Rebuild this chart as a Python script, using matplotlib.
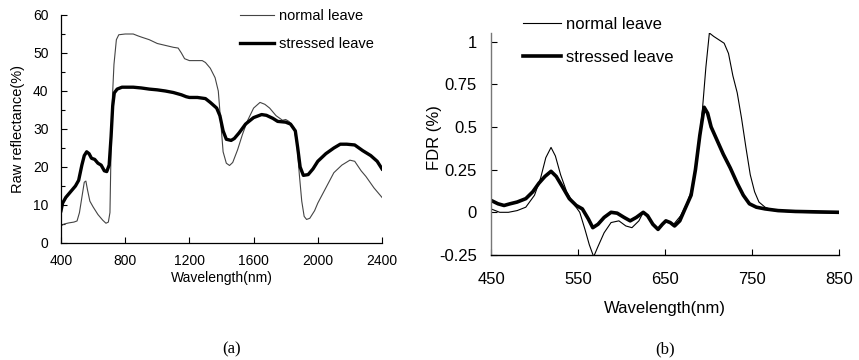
import matplotlib
matplotlib.use("Agg")
import matplotlib.pyplot as plt
from matplotlib.ticker import MultipleLocator

# ---------------- data: panel (a) raw reflectance ----------------
wl_a_normal = [400, 420, 450, 480, 500, 515, 530, 545, 555, 565, 580, 600, 630, 660, 680, 695, 705, 712, 720,
               730, 745, 760, 800, 850, 880, 900, 950, 1000, 1050, 1100, 1130, 1150, 1170, 1200, 1250, 1280,
               1300, 1330, 1360, 1380, 1395, 1410, 1430, 1450, 1470, 1500, 1530, 1560, 1600, 1640, 1670, 1700,
               1740, 1780, 1800, 1820, 1850, 1870, 1885, 1900, 1915, 1930, 1950, 1980, 2000, 2050, 2100, 2150,
               2200, 2230, 2270, 2300, 2350, 2400]
refl_normal = [4.5, 5.0, 5.3, 5.5, 5.8, 8, 12, 16, 16.3, 14, 11, 9.5, 7.5, 6, 5.2, 5.5, 8, 25, 38,
               47, 53.5, 54.8, 55, 55, 54.5, 54.2, 53.5, 52.5, 52, 51.5, 51.3, 50, 48.5, 48, 48, 48,
               47.5, 46, 43.5, 40, 32, 24, 21, 20.4, 21.2, 24.5, 28.5, 32, 35.5, 37, 36.5, 35.5,
               33.5, 32.3, 32.5, 32, 30.5, 26, 18, 11, 7, 6.2, 6.5, 8.5, 10.5, 14.5, 18.5, 20.5,
               21.8, 21.5, 19, 17.5, 14.5, 12]

wl_a_stressed = [400, 410, 430, 460, 490, 510, 530, 545, 560, 575, 590, 610, 630, 650, 670, 685, 700, 712,
                 722, 732, 750, 780, 850, 900, 950, 1000, 1050, 1100, 1150, 1180, 1200, 1250, 1300, 1330,
                 1370, 1390, 1410, 1430, 1460, 1480, 1510, 1550, 1600, 1650, 1680, 1720, 1750, 1800, 1830,
                 1860, 1875, 1890, 1910, 1940, 1970, 2000, 2050, 2100, 2140, 2180, 2230, 2280, 2330, 2370, 2400]
refl_stressed = [8.5, 10.5, 12, 13.5, 15, 16.5, 20.5, 23, 24, 23.5, 22.3, 22, 21, 20.5, 19, 18.8, 20.5, 28,
                 36, 39.5, 40.5, 41, 41, 40.8, 40.5, 40.3, 40, 39.6, 39, 38.5, 38.3, 38.3, 38, 37,
                 35.5, 33.5, 29.5, 27.3, 27, 27.5, 29, 31.3, 33, 33.8, 33.6, 32.8, 32, 31.8, 31.3,
                 29.5, 25, 20, 17.8, 18, 19.5, 21.5, 23.5, 25, 26, 26, 25.8, 24.3, 23, 21.5, 19.5]

# ---------------- data: panel (b) first derivative ----------------
wl_b_normal = [450, 460, 470, 480, 490, 500, 507, 513, 519, 524, 530, 537, 545, 552, 558, 563, 568, 573, 580,
               588, 597, 605, 612, 620, 625, 632, 642, 651, 660, 668, 675, 682, 688, 693, 697, 701, 706, 712,
               718, 723, 728, 733, 738, 743, 748, 753, 758, 765, 775, 800, 850]
fdr_normal = [0.02, 0.0, 0.0, 0.01, 0.03, 0.1, 0.2, 0.32, 0.38, 0.33, 0.22, 0.12, 0.05, 0.0, -0.1, -0.19, -0.26,
              -0.2, -0.12, -0.06, -0.05, -0.08, -0.09, -0.05, 0.0, -0.04, -0.1, -0.05, -0.07, -0.02, 0.05, 0.15,
              0.35, 0.6, 0.85, 1.05, 1.03, 1.01, 0.99, 0.93, 0.8, 0.7, 0.55, 0.38, 0.22, 0.12, 0.06, 0.03, 0.01,
              0.0, -0.005]

wl_b_stressed = [450, 458, 465, 472, 480, 490, 498, 505, 512, 519, 525, 532, 540, 548, 555, 562, 567, 573, 580,
                 588, 595, 603, 610, 617, 625, 630, 636, 642, 647, 651, 656, 661, 667, 673, 680, 685, 690, 695,
                 699, 703, 710, 717, 725, 733, 740, 747, 755, 765, 780, 800, 850]
fdr_stressed = [0.07, 0.05, 0.04, 0.05, 0.06, 0.08, 0.12, 0.17, 0.21, 0.24, 0.21, 0.15, 0.08, 0.04, 0.02, -0.04,
                -0.09, -0.07, -0.03, 0.0, -0.005, -0.03, -0.05, -0.03, 0.0, -0.02, -0.07, -0.1, -0.07, -0.05,
                -0.06, -0.08, -0.05, 0.02, 0.1, 0.25, 0.45, 0.615, 0.58, 0.5, 0.42, 0.34, 0.26, 0.17, 0.1, 0.05,
                0.03, 0.02, 0.01, 0.005, 0.0]

labels = ["normal leave", "stressed leave"]
a_xticks = [400, 800, 1200, 1600, 2000, 2400]
a_yticks = [0, 10, 20, 30, 40, 50, 60]
b_xticks = [450, 550, 650, 750, 850]
b_yticks = [-0.25, 0, 0.25, 0.5, 0.75, 1]
b_yticklabels = ["-0.25", "0", "0.25", "0.5", "0.75", "1"]

plt.rcParams['font.family'] = ['Liberation Sans', 'DejaVu Sans']

fig = plt.figure(figsize=(8.59, 3.6), dpi=100)
W, H = 859, 360

def box(x0, x1, ytop, ybot):
    return [x0 / W, 1 - ybot / H, (x1 - x0) / W, (ybot - ytop) / H]

# ---------- panel (a) ----------
ax1 = fig.add_axes(box(61, 382, 15, 243))
ax1.plot(wl_a_normal, refl_normal, color='#444444', lw=0.8, label=labels[0])
ax1.plot(wl_a_stressed, refl_stressed, color='black', lw=2.4, label=labels[1])
ax1.set_xlim(400, 2400)
ax1.set_ylim(0, 60)
ax1.set_xticks(a_xticks)
ax1.set_yticks(a_yticks)
ax1.yaxis.set_minor_locator(MultipleLocator(5))
for s in ['top', 'right']:
    ax1.spines[s].set_visible(False)
for s in ['left', 'bottom']:
    ax1.spines[s].set_linewidth(0.9)
ax1.tick_params(which='both', direction='in', width=0.8, labelsize=10)
ax1.tick_params(which='major', length=4)
ax1.tick_params(which='minor', length=3)
ax1.tick_params(axis='x', pad=8)
ax1.tick_params(axis='y', pad=9)
ax1.set_xlabel("Wavelength(nm)", fontsize=10, labelpad=2)
ax1.set_ylabel("Raw reflectance(%)", fontsize=10.5, labelpad=6)
ax1.legend(loc='upper left', bbox_to_anchor=((240 - 61) / 321, 1.027), frameon=False, fontsize=10.5,
           handlelength=2.3, handletextpad=0.4, labelspacing=1.0, borderpad=0, borderaxespad=0)

# ---------- panel (b) ----------
ax2 = fig.add_axes(box(491, 839, 33, 255))
ax2.plot(wl_b_normal, fdr_normal, color='black', lw=0.8, label=labels[0])
ax2.plot(wl_b_stressed, fdr_stressed, color='black', lw=2.6, label=labels[1])
ax2.set_xlim(450, 850)
ax2.set_ylim(-0.25, 1.05)
ax2.set_xticks(b_xticks)
ax2.set_yticks(b_yticks)
ax2.set_yticklabels(b_yticklabels)
for s in ['top', 'right']:
    ax2.spines[s].set_visible(False)
ax2.spines['left'].set_color('#777777')
ax2.spines['left'].set_linewidth(1.0)
ax2.spines['bottom'].set_linewidth(1.0)
ax2.tick_params(which='both', direction='in', length=4, width=0.8, labelsize=12)
ax2.tick_params(axis='x', pad=12)
ax2.tick_params(axis='y', pad=10)
ax2.set_xlabel("Wavelength(nm)", fontsize=12, labelpad=10)
ax2.set_ylabel("FDR (%)", fontsize=12)
ax2.yaxis.set_label_coords((442 - 491) / 348, 0.53)
leg_x = (523 - 491) / 348
ax2.legend(loc='upper left', bbox_to_anchor=(leg_x, 1.072), frameon=False, fontsize=12,
           handlelength=2.3, handletextpad=0.3, labelspacing=1.08, borderpad=0, borderaxespad=0)

fig.text(232 / W, 1 - 349 / H, "(a)", ha='center', va='center', fontsize=12, family=['Liberation Serif'])
fig.text(665 / W, 1 - 349 / H, "(b)", ha='center', va='center', fontsize=12, family=['Liberation Serif'])

fig.savefig("out.png", dpi=100)
